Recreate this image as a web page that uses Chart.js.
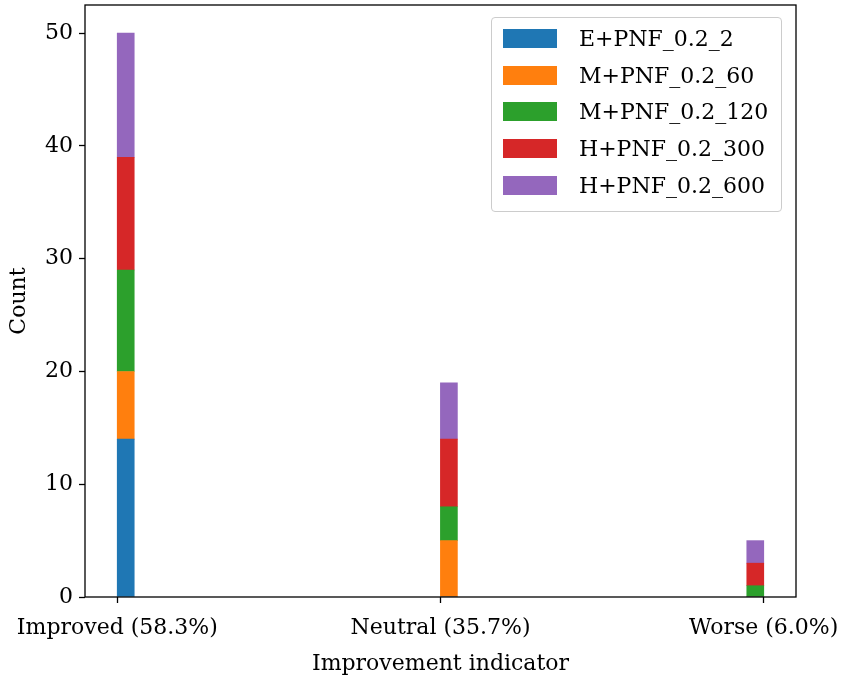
<!DOCTYPE html>
<html>
<head>
<meta charset="utf-8">
<script src="https://cdn.jsdelivr.net/npm/chart.js@4.4.1/dist/chart.umd.min.js"></script>
<style>
  html, body { margin: 0; padding: 0; background: #fff; }
  #wrap { position: relative; width: 843px; height: 679px; }
  #legend {
    position: absolute; left: 491px; top: 17px; width: 289px; height: 193px;
    border: 1.5px solid #cccccc; border-radius: 4px; background: rgba(255,255,255,0.85);
    font-family: "DejaVu Serif", serif; font-size: 22px; color: #000;
  }
  .row { position: absolute; left: 11px; height: 20px; }
  .sw { position: absolute; left: 0; top: 0; width: 54px; height: 19px; }
  .lb { position: absolute; left: 76px; top: -5px; white-space: nowrap; line-height: 30px; }
</style>
</head>
<body>
<div id="wrap">
  <canvas id="c" width="843" height="679"></canvas>
  <div id="legend"></div>
</div>
<script>
// ---- data ----
const categories = ["Improved (58.3%)", "Neutral (35.7%)", "Worse (6.0%)"];
const binCentres = [0.026, 1.026, 1.974];
const seriesNames = ["E+PNF_0.2_2", "M+PNF_0.2_60", "M+PNF_0.2_120", "H+PNF_0.2_300", "H+PNF_0.2_600"];
const ePNF2    = [14, 0, 0];
const mPNF60   = [6, 5, 0];
const mPNF120  = [9, 3, 1];
const hPNF300  = [10, 6, 2];
const hPNF600  = [11, 5, 2];
const yTicks = [0, 10, 20, 30, 40, 50];
const colors = ["#1f77b4", "#ff7f0e", "#2ca02c", "#d62728", "#9467bd"];

const seriesValues = [ePNF2, mPNF60, mPNF120, hPNF300, hPNF600];
const FONT = '"DejaVu Serif", serif';
Chart.defaults.color = '#000';
Chart.defaults.font.family = FONT;

const datasets = seriesNames.map((name, i) => ({
  label: name,
  data: seriesValues[i].map((v, j) => ({ x: binCentres[j], y: v })),
  backgroundColor: colors[i],
  borderWidth: 0,
  barThickness: 17,
}));

const framePlugin = {
  id: 'frame',
  afterDraw(chart) {
    const a = chart.chartArea, ctx = chart.ctx;
    ctx.save();
    ctx.strokeStyle = '#000';
    ctx.lineWidth = 1.3;
    ctx.strokeRect(a.left, a.top, a.right - a.left, a.bottom - a.top);
    ctx.restore();
  }
};

new Chart(document.getElementById('c'), {
  type: 'bar',
  data: { datasets },
  options: {
    responsive: false,
    animation: false,
    layout: { padding: { top: 5, right: 47, left: 0, bottom: 0 } },
    plugins: { legend: { display: false }, tooltip: { enabled: false } },
    scales: {
      x: {
        type: 'linear', stacked: true, offset: false,
        min: -0.1, max: 2.1,
        grid: { display: true, drawOnChartArea: false, drawTicks: true, tickLength: 6, tickColor: '#000', tickWidth: 1.3, offset: false },
        border: { display: false },
        afterBuildTicks: s => { s.ticks = categories.map((c, i) => ({ value: i })); },
        afterFit: s => { s.height = 82; s.paddingLeft = 0; s.paddingRight = 0; },
        ticks: {
          font: { size: 22 }, padding: 12, maxRotation: 0, autoSkip: false,
          callback: (v) => categories[v] !== undefined ? categories[v] : ''
        },
        title: { display: true, text: 'Improvement indicator', font: { size: 22 }, padding: { top: 0, bottom: 2 } }
      },
      y: {
        stacked: true, min: 0, max: 52.5,
        grid: { display: true, drawOnChartArea: false, drawTicks: true, tickLength: 6, tickColor: '#000', tickWidth: 1.3 },
        border: { display: false },
        afterBuildTicks: s => { s.ticks = yTicks.map(v => ({ value: v })); },
        afterFit: s => { s.width = 85; s.paddingTop = 0; s.paddingBottom = 0; },
        ticks: { font: { size: 22 }, padding: 6 },
        title: { display: true, text: 'Count', font: { size: 22 }, padding: { top: 6, bottom: 0 } }
      }
    }
  },
  plugins: [framePlugin]
});

// HTML legend built from the series arrays
const leg = document.getElementById('legend');
seriesNames.forEach((name, i) => {
  const row = document.createElement('div');
  row.className = 'row';
  row.style.top = (11 + i * 36.7) + 'px';
  const sw = document.createElement('div');
  sw.className = 'sw';
  sw.style.background = colors[i];
  const lb = document.createElement('div');
  lb.className = 'lb';
  lb.textContent = name;
  row.appendChild(sw); row.appendChild(lb);
  leg.appendChild(row);
});
</script>
</body>
</html>
